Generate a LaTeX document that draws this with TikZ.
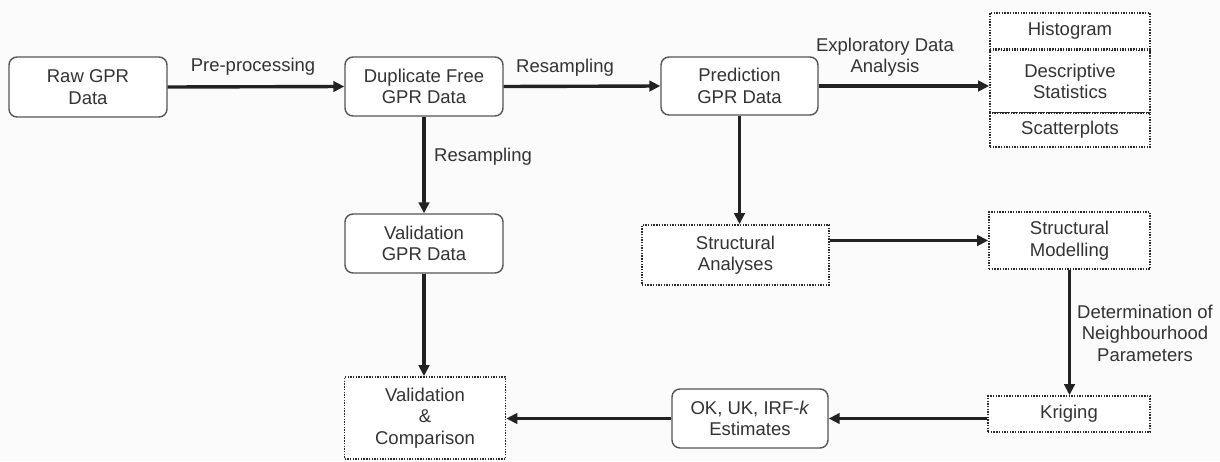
\documentclass[tikz,border=0pt]{standalone}
\usepackage{fontspec}
\setmainfont{Liberation Sans}
\usetikzlibrary{arrows.meta}
\definecolor{txt}{HTML}{333333}
\definecolor{bord}{HTML}{555555}
\definecolor{dotc}{HTML}{2A2A2A}
\definecolor{arrc}{HTML}{222222}
\definecolor{bg}{HTML}{FBFBFB}
\begin{document}
\begin{tikzpicture}[x=1pt,y=-1pt,
  every node/.style={font=\fontsize{18.5}{21.5}\selectfont, text=txt, align=center, inner sep=0pt},
  rbox/.style={draw=bord, line width=1.4pt, rounded corners=8pt, fill=white},
  dbox/.style={draw=dotc, line width=1.7pt, dash pattern=on 1.4pt off 1.3pt, fill=white},
  arr/.style={draw=arrc, line width=3.4pt, -{Triangle[length=11pt,width=10.5pt]}}]
\useasboundingbox[fill=bg] (0,0) rectangle (1220,461);

% rounded boxes
\node[rbox, minimum width=158pt, minimum height=60pt] (raw) at (88,87) {Raw GPR\\Data};
\node[rbox, minimum width=158pt, minimum height=59pt] (dup) at (424,86.5) {Duplicate Free\\GPR Data};
\node[rbox, minimum width=157pt, minimum height=58pt] (pred) at (739.5,86) {Prediction\\GPR Data};
\node[rbox, minimum width=158pt, minimum height=59pt] (val) at (424,243.5) {Validation\\GPR Data};
\node[rbox, minimum width=156pt, minimum height=59pt] (ok) at (750,418.5) {OK, UK, IRF-\textit{k}\\Estimates};

% dotted boxes
\node[dbox, minimum width=160pt, minimum height=36pt] (hist) at (1070,31) {Histogram};
\node[dbox, minimum width=160pt, minimum height=62pt] (desc) at (1070,81.5) {Descriptive\\Statistics};
\node[dbox, minimum width=160pt, minimum height=34pt] (scat) at (1070,130) {Scatterplots};
\node[dbox, minimum width=187pt, minimum height=60pt] (sa) at (735.5,255) {Structural\\Analyses};
\node[dbox, minimum width=161pt, minimum height=57pt] (sm) at (1069.5,240.5) {Structural\\Modelling};
\node[dbox, minimum width=162pt, minimum height=36pt] (kr) at (1069,414) {Kriging};
\node[dbox, minimum width=161pt, minimum height=82pt] (vc) at (425,418) {Validation\\\&\\Comparison};

% labels
\node (l1) at (253,67) {Pre-processing};
\node (l2) at (565,68) {Resampling};
\node (l3) at (885,57) {Exploratory Data\\Analysis};
\node (l4) at (483,157) {Resampling};
\node (l5) at (1145,333) {Determination of\\Neighbourhood\\Parameters};

% connectors
\draw[arr] (raw.east) -- (dup.west);
\draw[arr] (dup.east) -- (pred.west);
\draw[arr] (pred.east) -- (pred.east -| desc.west);
\draw[arr] (dup.south) -- (val.north);
\draw[arr] (pred.south) -- (pred.south |- sa.north);
\draw[arr] (sm.west -| sa.east) -- (sm.west);
\draw[arr] (sm.south) -- (sm.south |- kr.north);
\draw[arr] (ok.east -| kr.west) -- (ok.east);
\draw[arr] (val.south) -- (val.south |- vc.north);
\draw[arr] (ok.west) -- (ok.west -| vc.east);
\end{tikzpicture}
\end{document}
